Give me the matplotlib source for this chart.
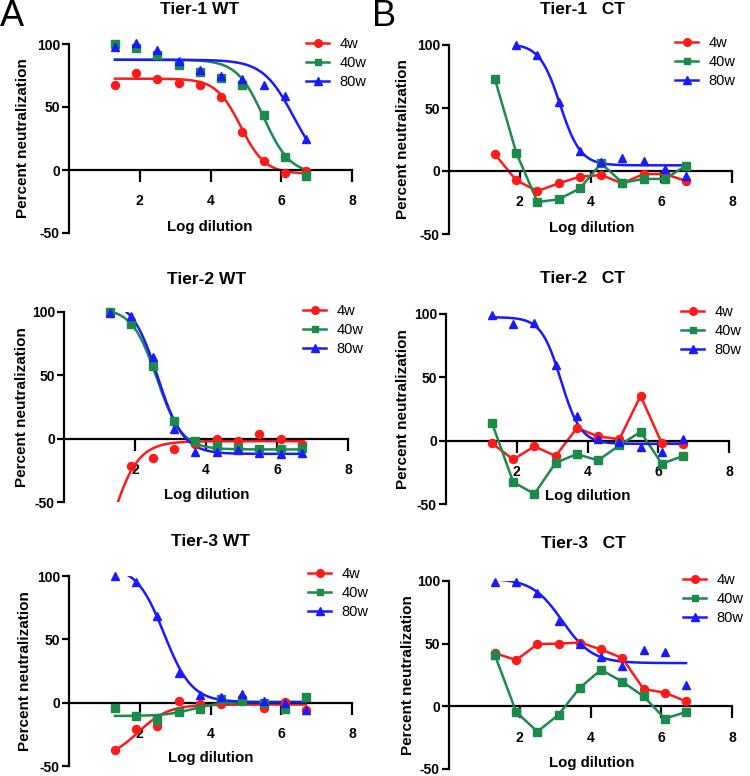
import numpy as np
import matplotlib
matplotlib.use("Agg")
import matplotlib.pyplot as plt
from matplotlib.lines import Line2D

plt.rcParams['font.family'] = ['Liberation Sans', 'DejaVu Sans']
plt.rcParams['axes.unicode_minus'] = False

# log dilution steps shared by all panels
log_dilution = [1.3, 1.9, 2.5, 3.1, 3.7, 4.3, 4.9, 5.5, 6.1, 6.7]
nan = np.nan

# Tier-1 WT
t1_wt_4w = [67.7, 76.7, 72.2, 68.8, 67.5, 58.2, 29.9, 7.1, -2.1, -0.8]
t1_wt_40w = [100, 96.8, 91.3, 83.6, 78, 72.8, 67.7, 43.9, 10.3, -4.5]
t1_wt_80w = [98, 100.5, 95.5, 86.5, 79, 74.9, 72.5, 67.5, 58.7, 24.6]
# Tier-1 CT
t1_ct_4w = [13.2, -7.4, -15.9, -9.8, -4.5, -3.2, -9.8, -2.4, -2.4, -7.9]
t1_ct_40w = [72.8, 14.6, -24.6, -22.5, -13.8, 6.1, -9.3, -6.3, -6.3, 4.2]
t1_ct_80w = [nan, 100, 92, 55, 16, 7.4, 10.6, 7.9, 1.6, -4]
# Tier-2 WT
t2_wt_4w = [-62, -21.2, -15.3, -8.5, -4.5, 0, -1.6, 3.4, -0.5, -4.5]
t2_wt_40w = [100, 90.5, 57.7, 14.3, -1.6, -5.6, -7.1, -8.2, -8.2, -7.1]
t2_wt_80w = [99, 96.6, 64.8, 7.9, -10.6, -10.3, -9, -11.4, -11.9, -11.4]
# Tier-2 CT
t2_ct_4w = [-2.1, -14.8, -4.5, -12.1, 10, 3.4, 1.1, 35.4, -2.1, -2.6]
t2_ct_40w = [14, -32.7, -42, -17.4, -10.6, -15.6, -3.7, 6.9, -18.2, -12.1]
t2_ct_80w = [99.2, 92, 92.6, 59.5, 19.3, 1.6, -1, -5, -9, 1]
# Tier-3 WT
t3_wt_4w = [-37.4, -20.5, -18.4, 1.3, -0.8, -1.3, 3.4, -4.5, 0.3, -5.5]
t3_wt_40w = [-4.5, -10.3, -13.9, -7.4, -4.7, 3.2, 1.0, 0, -4.7, 4.7]
t3_wt_80w = [100, 95.5, 68.7, 23.7, 6.3, 4.7, 6.6, 1.3, 0, -6]
# Tier-3 CT
t3_ct_4w = [42.4, 36.9, 49.6, 50.1, 50.9, 45.4, 38.5, 13.8, 10.9, 4]
t3_ct_40w = [40.6, -4.5, -20.2, -6.6, 14.9, 29.2, 19.6, 8, -9.8, -4.5]
t3_ct_80w = [99, 99, 90.5, 68.4, 49.9, 39, 32.4, 44.8, 43.5, 17.2]

# sigmoid fit parameters: (top, bottom, logIC50, hill)
fit_t1_wt = [(72.5, -3, 4.85, 1.25), (87.5, -3.5, 5.5, 1.15), (87.5, -3, 6.35, 1.0)]
fit_t1_ct = [None, None, (101, 4.5, 3.14, 1.5)]
fit_t2_wt = [(-150, -2, 1.23, 1.1), (103, -8.5, 2.62, 1.24), (110, -12, 2.636, 1.2)]
fit_t2_ct = [None, None, (97.5, -2.5, 3.25, 1.55)]
fit_t3_wt = [(-45, -1.5, 1.96, 1.02), (-10.5, 0.5, 3.5, 1.1), (108, 0.5, 2.69, 1.11)]
fit_t3_ct = [None, None, (102, 34.5, 3.2, 1.02)]

series_names = ['4w', '40w', '80w']
colors = ['#ff1a1a', '#1b8a4b', '#1a1aff']
markers = ['o', 's', '^']
msizes = [5.8, 5.3, 5.8]

W, H = 750, 776
fig = plt.figure(figsize=(W / 100, H / 100), dpi=100)


def fx(x):
    return x / W


def fy(y):
    return 1 - y / H


def sigmoid(x, top, bottom, c, h):
    return bottom + (top - bottom) / (1 + 10 ** ((x - c) * h))


panels = [
    ('Tier-1 WT', [t1_wt_4w, t1_wt_40w, t1_wt_80w], fit_t1_wt,
     (69, 352, 44, 233), (200, 10), 23, (210, 227), (306, 45)),
    ('Tier-1   CT', [t1_ct_4w, t1_ct_40w, t1_ct_80w], fit_t1_ct,
     (449, 732, 45, 234), (583, 10), 403, (592, 228), (675, 44)),
    ('Tier-2 WT', [t2_wt_4w, t2_wt_40w, t2_wt_80w], fit_t2_wt,
     (64, 348, 312, 502), (207, 279), 22, (207, 495), (303, 312)),
    ('Tier-2   CT', [t2_ct_4w, t2_ct_40w, t2_ct_80w], fit_t2_ct,
     (446, 729, 314, 504), (582, 278), 403, (588, 496), (681, 313)),
    ('Tier-3 WT', [t3_wt_4w, t3_wt_40w, t3_wt_80w], fit_t3_wt,
     (69, 352, 576, 766), (210, 541), 25, (211, 758), (308, 575)),
    ('Tier-3   CT', [t3_ct_4w, t3_ct_40w, t3_ct_80w], fit_t3_ct,
     (449, 732, 581, 769), (583, 543), 408, (592, 763), (683, 581)),
]

x = np.array(log_dilution)
for title, series, fits, box, tpos, ylx, xlpos, legpos in panels:
    l, r, t, b = box
    ax = fig.add_axes([fx(l), fy(b), fx(r - l), (b - t) / H])
    ax.set_xlim(0, 8)
    ax.set_ylim(-50, 100)
    ax.spines['top'].set_visible(False)
    ax.spines['right'].set_visible(False)
    ax.spines['bottom'].set_position(('data', 0))
    for s in ['left', 'bottom']:
        ax.spines[s].set_linewidth(1.6)
    ax.set_xticks([2, 4, 6, 8])
    ax.set_yticks([-50, 0, 50, 100])
    ax.tick_params(axis='x', length=8.5, width=1.6, pad=9, labelsize=10)
    ax.tick_params(axis='y', length=5, width=1.6, pad=1.5, labelsize=10)
    for lab in ax.get_xticklabels() + ax.get_yticklabels():
        lab.set_fontweight('bold')

    # draw 80w first so 4w ends up on top
    for i in [2, 1, 0]:
        y = np.array(series[i], dtype=float)
        ok = ~np.isnan(y)
        if fits[i] is not None:
            xs = np.linspace(x[ok].min(), x[ok].max(), 300)
            ax.plot(xs, sigmoid(xs, *fits[i]), color=colors[i], lw=1.8, zorder=2 + i)
        else:
            ax.plot(x[ok], y[ok], color=colors[i], lw=1.8, zorder=2 + i)
        vis = ok & (y >= -51) & (y <= 101)
        ax.plot(x[vis], y[vis], ls='none', marker=markers[i], ms=msizes[i],
                color=colors[i], mec=colors[i], clip_on=False, zorder=5 + i)

    handles = [Line2D([], [], color=colors[i], lw=1.8, marker=markers[i],
                      ms=msizes[i] - 0.3) for i in range(3)]
    ax.legend(handles, series_names, loc='upper left',
              bbox_to_anchor=(fx(legpos[0]), fy(legpos[1] - 8)),
              bbox_transform=fig.transFigure, frameon=False, borderpad=0,
              borderaxespad=0, handlelength=1.6, handletextpad=0.7,
              labelspacing=0.35, fontsize=10.5)

    fig.text(fx(tpos[0]), fy(tpos[1]), title, ha='center', va='center',
             fontsize=12.5, fontweight='bold')
    fig.text(fx(ylx), fy((t + b) / 2), 'Percent neutralization', rotation=90,
             ha='center', va='center', fontsize=11, fontweight='bold')
    fig.text(fx(xlpos[0]), fy(xlpos[1]), 'Log dilution', ha='center',
             va='center', fontsize=10.8, fontweight='bold')

fig.text(fx(0), fy(16), 'A', ha='left', va='center', fontsize=26)
fig.text(fx(372), fy(16), 'B', ha='left', va='center', fontsize=26)

fig.savefig('out.png', dpi=100)
